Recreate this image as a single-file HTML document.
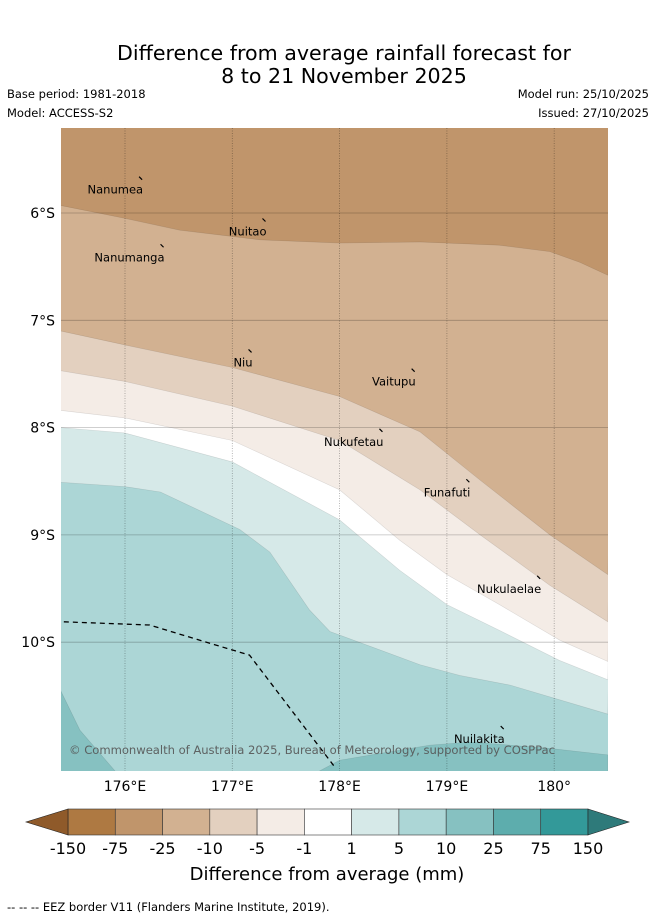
<!DOCTYPE html>
<html><head><meta charset="utf-8"><style>
body{margin:0;background:#fff;width:655px;height:919px;overflow:hidden;font-family:"Liberation Sans","DejaVu Sans",sans-serif}
svg{position:absolute;left:0;top:0}
</style></head><body>
<svg id="chart" width="655" height="919" viewBox="0 0 655 919" font-family="DejaVu Sans, Liberation Sans, sans-serif">
<text x="344" y="60" font-size="20.6" text-anchor="middle">Difference from average rainfall forecast for</text>
<text x="344" y="83" font-size="20.6" text-anchor="middle">8 to 21 November 2025</text>
<text x="7" y="98" font-size="11.5">Base period: 1981-2018</text>
<text x="7" y="117" font-size="11.5">Model: ACCESS-S2</text>
<text x="649" y="98" font-size="11.5" text-anchor="end">Model run: 25/10/2025</text>
<text x="649" y="117" font-size="11.5" text-anchor="end">Issued: 27/10/2025</text>
<defs><clipPath id="mapclip"><rect x="61" y="128" width="547" height="643"/></clipPath></defs>
<g id="map" clip-path="url(#mapclip)"></g>
<g id="axes"></g>
<g id="cbar"></g>
<text x="327" y="880" font-size="18" text-anchor="middle">Difference from average (mm)</text>
<text x="7" y="911" font-size="11.5">-- -- -- EEZ border V11 (Flanders Marine Institute, 2019).</text>
</svg>
<script>
const NS="http://www.w3.org/2000/svg";
const lonTicks=[176,177,178,179,180];
const latTicks=[-6,-7,-8,-9,-10];
const lonLabels=["176°E","177°E","178°E","179°E","180°"];
const latLabels=["6°S","7°S","8°S","9°S","10°S"];
const levelLabels=["-150","-75","-25","-10","-5","-1","1","5","10","25","75","150"];
const levelColors=["#ae7942","#c0956b","#d2b191","#e3d0bf","#f4ece6","#ffffff","#d6e9e8","#acd6d6","#86c1c1","#5dadad","#339999"];
const contourA=[[175.40,-5.93],[176.0,-6.05],[176.51,-6.16],[177.26,-6.25],[178.0,-6.28],[178.75,-6.27],[179.49,-6.30],[179.96,-6.36],[180.24,-6.46],[180.5,-6.58]];
const contourB=[[175.40,-7.10],[176.0,-7.23],[177.0,-7.44],[178.0,-7.71],[178.75,-8.04],[179.31,-8.49],[179.96,-9.0],[180.5,-9.37]];
const contourC=[[175.40,-7.47],[176.0,-7.57],[177.0,-7.80],[178.0,-8.12],[178.75,-8.58],[179.31,-9.0],[179.96,-9.47],[180.5,-9.81]];
const contourD=[[175.40,-7.84],[176.0,-7.91],[177.0,-8.12],[178.0,-8.58],[178.56,-9.05],[179.0,-9.37],[179.49,-9.65],[180.05,-9.98],[180.5,-10.18]];
const contourE=[[175.40,-8.0],[176.0,-8.05],[177.0,-8.32],[178.0,-8.86],[178.56,-9.33],[179.0,-9.65],[179.49,-9.89],[180.05,-10.17],[180.5,-10.35]];
const contourF=[[175.40,-8.51],[176.0,-8.55],[176.33,-8.60],[177.07,-8.95],[177.35,-9.16],[177.72,-9.70],[177.91,-9.90],[178.75,-10.21],[179.12,-10.31],[179.59,-10.40],[180.5,-10.67]];
const wetLeft=[[175.40,-10.45],[175.58,-10.82],[175.95,-11.25],[175.40,-11.25]];
const wetRight=[[177.72,-11.25],[178.0,-11.10],[178.84,-10.96],[179.22,-10.93],[179.96,-10.99],[180.5,-11.05],[180.5,-11.25]];
const eez=[[175.43,-9.81],[176.23,-9.84],[176.79,-10.01],[177.16,-10.12],[177.96,-11.17]];
const islands=["Nanumea","Nuitao","Nanumanga","Niu","Vaitupu","Nukufetau","Funafuti","Nukulaelae","Nuilakita"];
const islandLon=[176.15,177.30,176.35,177.17,178.69,178.39,179.2,179.86,179.52];
const islandLat=[-5.68,-6.07,-6.31,-7.29,-7.47,-8.03,-8.5,-9.4,-10.80];
const lx=lon=>125+(lon-176)*107.3;
const ly=lat=>213+(-6-lat)*107.3;
function mk(tag,attrs,parent){const e=document.createElementNS(NS,tag);for(const k in attrs)e.setAttribute(k,attrs[k]);parent.appendChild(e);return e;}
const map=document.getElementById('map'),axes=document.getElementById('axes'),cbar=document.getElementById('cbar');
let bg=mk('rect',{x:61,y:128,width:547,height:643,fill:levelColors[7]},map);


const fills=[[contourF,6,'band-1-to-5'],[contourE,5,'band-neutral'],[contourD,4,'band-minus5-to-minus1'],[contourC,3,'band-minus10-to-minus5'],[contourB,2,'band-minus25-to-minus10'],[contourA,1,'band-minus75-to-minus25']];
fills.forEach(([c,ci,name])=>{
  const pts=c.map(p=>lx(p[0])+','+ly(p[1])).concat([lx(180.6)+','+ly(-5.1),lx(175.3)+','+ly(-5.1)]);
  const p=mk('polygon',{points:pts.join(' '),fill:levelColors[ci],stroke:'rgba(0,0,0,0.12)','stroke-width':0.6},map);
  
  
});
[[wetLeft,'band-10-to-25-west'],[wetRight,'band-10-to-25-east']].forEach(([c,name])=>{
  const p=mk('polygon',{points:c.map(q=>lx(q[0])+','+ly(q[1])).join(' '),fill:levelColors[8],stroke:'rgba(0,0,0,0.12)','stroke-width':0.6},map);
  
  
});
lonTicks.forEach((t,i)=>{
  const l=mk('line',{x1:lx(t),x2:lx(t),y1:128,y2:771,stroke:'rgba(0,0,0,0.35)','stroke-width':0.8,'stroke-dasharray':'1,1.5'},map);
  
  
  const tx=mk('text',{x:lx(t),y:791,'font-size':14,'text-anchor':'middle'},axes);tx.textContent=lonLabels[i];
  
  
});
latTicks.forEach((t,i)=>{
  const l=mk('line',{x1:61,x2:608,y1:ly(t),y2:ly(t),stroke:'rgba(0,0,0,0.25)','stroke-width':0.8},map);
  
  
  const tx=mk('text',{x:55,y:ly(t)+5,'font-size':14,'text-anchor':'end'},axes);tx.textContent=latLabels[i];
  
  
});
const ez=mk('polyline',{points:eez.map(q=>lx(q[0])+','+ly(q[1])).join(' '),fill:'none',stroke:'#000','stroke-width':1.3,'stroke-dasharray':'5,4'},map);


islands.forEach((n,i)=>{
  const x=lx(islandLon[i]),y=ly(islandLat[i]);
  const m=mk('line',{x1:x-2,y1:y-2,x2:x+1,y2:y+1,stroke:'#000','stroke-width':1.2},map);
  
  
  const t=mk('text',{x:x+2,y:y+15,'font-size':11.5,'text-anchor':'end',fill:'#000'},map);t.textContent=n;
  
  
});
const cp=mk('text',{x:69,y:754,'font-size':11.6,fill:'#555','fill-opacity':0.9,textLength:486},map);cp.textContent="© Commonwealth of Australia 2025, Bureau of Meteorology, supported by COSPPac";


const cx0=68,cx1=588,cy0=809,cy1=835,sw=(cx1-cx0)/levelColors.length;
levelColors.forEach((c,i)=>{
  const r=mk('rect',{x:cx0+i*sw,y:cy0,width:sw,height:cy1-cy0,fill:c,stroke:'#333','stroke-width':0.6},cbar);
  
  
});
let lt=mk('polygon',{points:`${cx0},${cy0} ${cx0},${cy1} 26,822`,fill:'#8f5a2a',stroke:'#222','stroke-width':0.6},cbar);


let rt=mk('polygon',{points:`${cx1},${cy0} ${cx1},${cy1} 629,822`,fill:'#2e7a7a',stroke:'#222','stroke-width':0.6},cbar);


levelLabels.forEach((s,i)=>{
  const t=mk('text',{x:cx0+i*sw,y:854,'font-size':16,'text-anchor':'middle'},cbar);t.textContent=s;
  
  
});
</script>
</body></html>
